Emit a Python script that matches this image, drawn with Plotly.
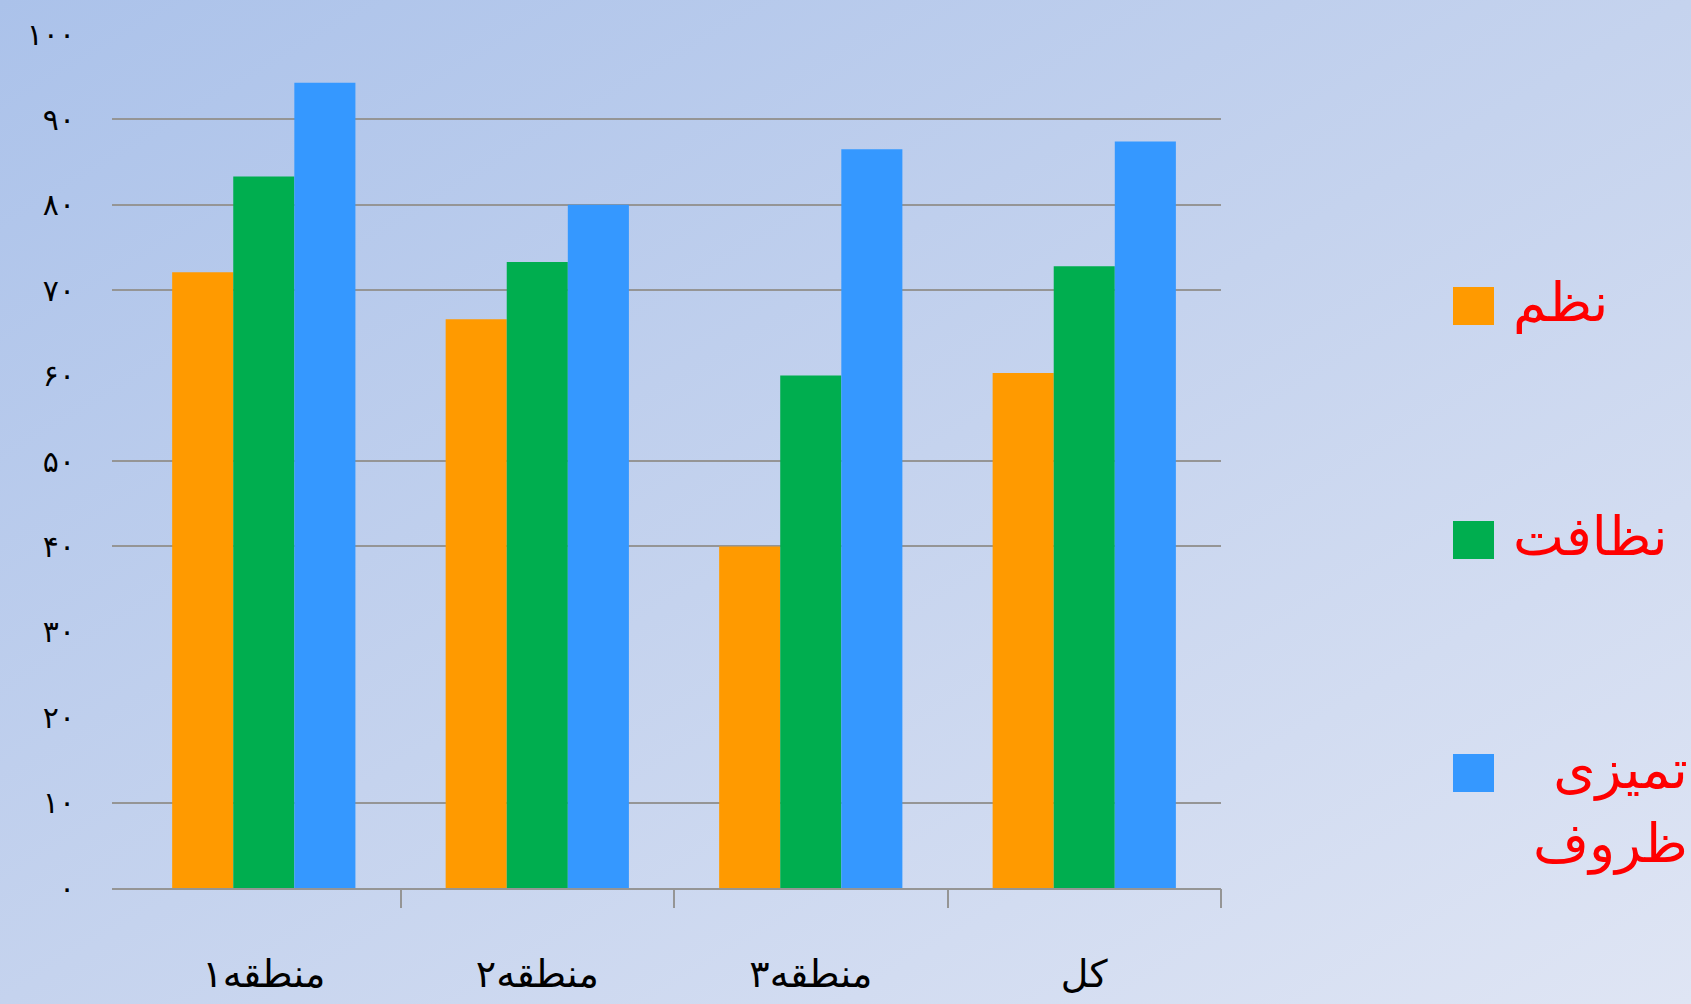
import base64
import plotly.graph_objects as go

# Survey scores per district
categories = ["منطقه۱", "منطقه۲", "منطقه۳", "کل"]
series_names = ["نظم", "نظافت", "تمیزی ظروف"]
legend_lines = [["نظم"], ["نظافت"], [" تمیزی", "ظروف"]]
order_vals = [72.1, 66.6, 40.0, 60.3]
cleanliness_vals = [83.3, 73.3, 60.0, 72.8]
dishes_vals = [94.3, 80.0, 86.5, 87.4]
series_values = [order_vals, cleanliness_vals, dishes_vals]
series_colors = ["#FF9A00", "#00AE4F", "#3598FF"]

y_tick_vals = [0, 10, 20, 30, 40, 50, 60, 70, 80, 90, 100]
y_tick_text = ["۰", "۱۰", "۲۰", "۳۰", "۴۰", "۵۰", "۶۰", "۷۰", "۸۰", "۹۰", "۱۰۰"]
grid_vals = [0, 10, 40, 50, 70, 80, 90]

W, H = 1691, 1004
ML, MR, MT, MB = 112, 470, 34, 116
PW, PH = W - ML - MR, H - MT - MB

x_range = [-0.555, len(categories) - 0.5]
boundaries = [i + 0.5 for i in range(len(categories))]


def py(pix):
    """Pixel row from the top of the figure -> paper y."""
    return 1 - (pix - MT) / PH


def px(pix):
    """Pixel column from the left of the figure -> paper x."""
    return (pix - ML) / PW


fig = go.Figure()
for name, vals, color in zip(series_names, series_values, series_colors):
    fig.add_trace(go.Bar(
        x=categories, y=vals, name=name,
        marker=dict(color=color, line=dict(width=0)),
        showlegend=False,
    ))

# Diagonal background gradient
svg = (
    '<svg xmlns="http://www.w3.org/2000/svg" width="1691" height="1004" '
    'preserveAspectRatio="none" viewBox="0 0 1691 1004">'
    '<defs><linearGradient id="g" x1="0" y1="0" x2="1" y2="1">'
    '<stop offset="0" stop-color="#ABC2EA"/>'
    '<stop offset="0.5" stop-color="#C5D3EE"/>'
    '<stop offset="1" stop-color="#DFE5F4"/>'
    '</linearGradient></defs>'
    '<rect width="1691" height="1004" fill="url(#g)"/></svg>'
)
src = "data:image/svg+xml;base64," + base64.b64encode(svg.encode()).decode()
fig.add_layout_image(dict(
    source=src, xref="paper", yref="paper",
    x=px(0), y=py(0), sizex=W / PW, sizey=H / PH,
    xanchor="left", yanchor="top", sizing="stretch", layer="below",
))

# Custom legend: swatches and red labels
legend_y = [306, 540, 773]
legend_font = dict(family="DejaVu Sans", size=54, color="#FF0000")
line_step = 74
for color, ypix in zip(series_colors, legend_y):
    fig.add_shape(
        type="rect", xref="paper", yref="paper",
        x0=px(1453), x1=px(1494),
        y0=py(ypix + 19), y1=py(ypix - 19),
        fillcolor=color, line=dict(width=0),
    )
for lines, ypix in zip(legend_lines, legend_y):
    if len(lines) == 1:
        fig.add_annotation(
            text=lines[0], xref="paper", yref="paper",
            x=px(1511), y=py(ypix - 4),
            xanchor="left", yanchor="middle", showarrow=False,
            font=legend_font,
        )
    else:
        for k, line in enumerate(lines):
            fig.add_annotation(
                text=line, xref="paper", yref="paper",
                x=px(1690), y=py(ypix - 4 + k * line_step),
                xanchor="right", yanchor="middle", showarrow=False,
                font=legend_font,
            )

axis_grey = "#959595"
fig.update_layout(
    width=W, height=H,
    margin=dict(l=ML, r=MR, t=MT, b=MB, pad=0),
    paper_bgcolor="#C5D3EE",
    plot_bgcolor="rgba(0,0,0,0)",
    barmode="group", bargap=0.33, bargroupgap=0,
    font=dict(family="DejaVu Sans", color="black"),
    xaxis=dict(
        type="category", range=x_range, automargin=False,
        showline=True, linecolor=axis_grey, linewidth=1.5,
        showgrid=False, ticks="",
        tickfont=dict(size=38, family="DejaVu Sans"),
        ticklabelstandoff=52,
    ),
    xaxis2=dict(
        overlaying="x", anchor="y", side="bottom", range=x_range,
        tickmode="array", tickvals=boundaries, automargin=False,
        ticks="outside", ticklen=19, tickwidth=1.5, tickcolor=axis_grey,
        showticklabels=False, showgrid=False, showline=False, zeroline=False,
    ),
    yaxis=dict(
        range=[0, 100], tickmode="array", tickvals=y_tick_vals, ticktext=y_tick_text,
        showgrid=False, zeroline=False, showline=False, ticks="", automargin=False,
        tickfont=dict(size=30, family="DejaVu Sans"),
        ticklabelstandoff=36,
    ),
    yaxis2=dict(
        overlaying="y", anchor="x", range=[0, 100], automargin=False,
        tickmode="array", tickvals=grid_vals,
        showgrid=True, gridcolor=axis_grey, gridwidth=1.5,
        showticklabels=False, zeroline=False, showline=False, ticks="",
    ),
)
# A hidden trace keeps the overlay axes active
fig.add_trace(go.Scatter(x=[boundaries[0]], y=[0], xaxis="x2", yaxis="y2",
                         mode="markers", marker=dict(opacity=0),
                         showlegend=False, hoverinfo="skip"))

fig.write_html("out.html")
